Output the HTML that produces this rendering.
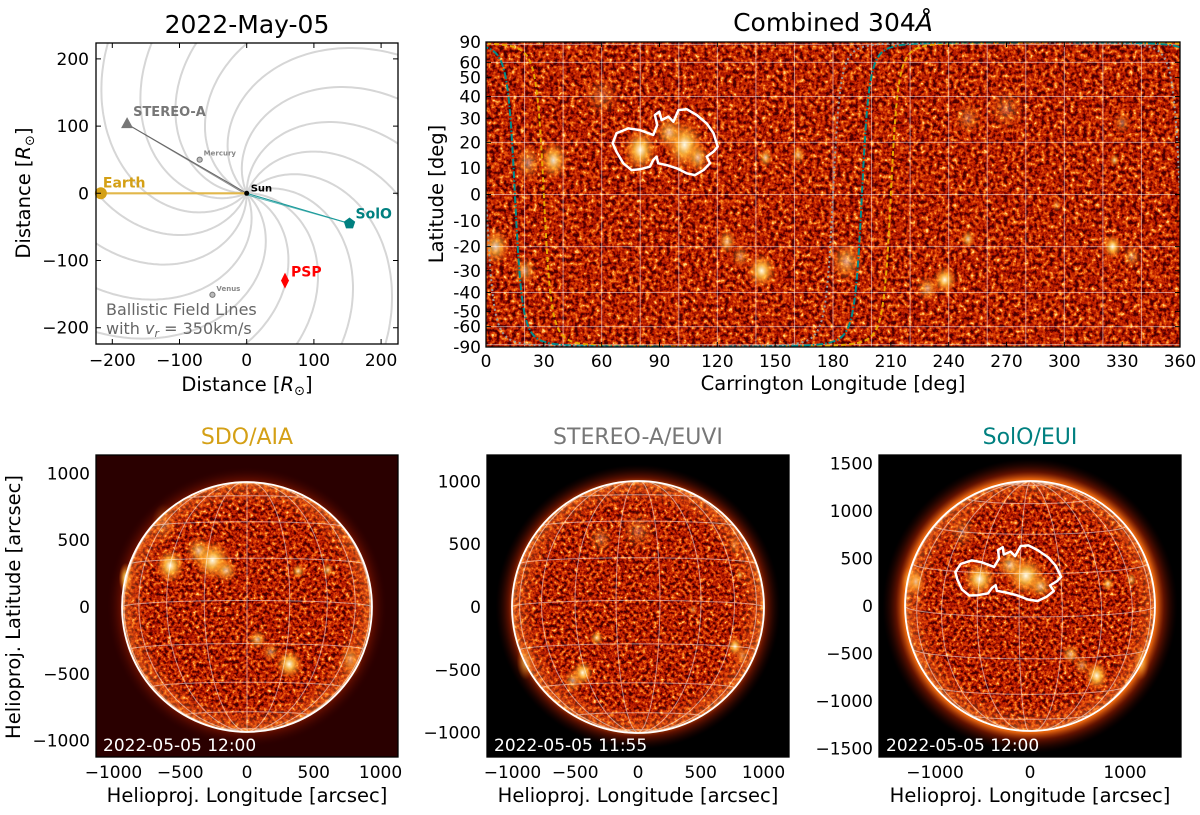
<!DOCTYPE html>
<html><head><meta charset="utf-8">
<style>
body{margin:0;background:#fff;}
svg text{font-family:"DejaVu Sans","Liberation Sans",sans-serif;}
</style></head>
<body>
<svg id="fig" width="1200" height="810" viewBox="0 0 1200 810" xmlns="http://www.w3.org/2000/svg">
<defs>
  <filter id="texMap" x="0" y="0" width="1" height="1" color-interpolation-filters="sRGB">
    <feTurbulence type="fractalNoise" baseFrequency="0.24" numOctaves="3" seed="3" result="n"/>
    <feColorMatrix in="n" type="matrix" values="1 0 0 0 0  1 0 0 0 0  1 0 0 0 0  0 0 0 0 1" result="g"/>
    <feComponentTransfer in="g" result="c">
      <feFuncR type="linear" slope="2.0" intercept="-0.63"/>
      <feFuncG type="linear" slope="2.0" intercept="-0.63"/>
      <feFuncB type="linear" slope="2.0" intercept="-0.63"/>
    </feComponentTransfer>
    <feComponentTransfer in="c" result="col">
      <feFuncR type="table" tableValues="0.3 0.6 0.76 0.88 0.97 1"/>
      <feFuncG type="table" tableValues="0 0.05 0.14 0.28 0.5 0.85"/>
      <feFuncB type="table" tableValues="0 0 0 0.03 0.1 0.5"/>
    </feComponentTransfer>
    <feComposite in="col" in2="SourceGraphic" operator="in"/>
  </filter>
  <filter id="texDisk" x="0" y="0" width="1" height="1" color-interpolation-filters="sRGB">
    <feTurbulence type="fractalNoise" baseFrequency="0.28" numOctaves="3" seed="7" result="n"/>
    <feColorMatrix in="n" type="matrix" values="1 0 0 0 0  1 0 0 0 0  1 0 0 0 0  0 0 0 0 1" result="g"/>
    <feComponentTransfer in="g" result="c">
      <feFuncR type="linear" slope="2.0" intercept="-0.63"/>
      <feFuncG type="linear" slope="2.0" intercept="-0.63"/>
      <feFuncB type="linear" slope="2.0" intercept="-0.63"/>
    </feComponentTransfer>
    <feComponentTransfer in="c" result="col">
      <feFuncR type="table" tableValues="0.28 0.58 0.75 0.88 0.97 1"/>
      <feFuncG type="table" tableValues="0 0.04 0.13 0.27 0.5 0.85"/>
      <feFuncB type="table" tableValues="0 0 0 0.03 0.1 0.5"/>
    </feComponentTransfer>
    <feComposite in="col" in2="SourceGraphic" operator="in"/>
  </filter>
  <radialGradient id="ar">
    <stop offset="0" stop-color="#fffbe8" stop-opacity="1"/>
    <stop offset="0.35" stop-color="#ffc040" stop-opacity="0.85"/>
    <stop offset="1" stop-color="#ff6a00" stop-opacity="0"/>
  </radialGradient>
  <radialGradient id="limb">
    <stop offset="0.8" stop-color="#ff6a10" stop-opacity="0"/>
    <stop offset="0.97" stop-color="#ff9030" stop-opacity="0.4"/>
    <stop offset="1" stop-color="#ffc070" stop-opacity="0.7"/>
  </radialGradient>
  <radialGradient id="corona">
    <stop offset="0.86" stop-color="#ff7010" stop-opacity="1"/>
    <stop offset="0.91" stop-color="#b02000" stop-opacity="0.6"/>
    <stop offset="1" stop-color="#400000" stop-opacity="0"/>
  </radialGradient>
  <clipPath id="clipOrbit"><rect x="96" y="43" width="302" height="301"/></clipPath>
  <clipPath id="clipMap"><rect x="486" y="42" width="694" height="305"/></clipPath>
  <clipPath id="clipP0"><rect x="96" y="455" width="302" height="302"/></clipPath>
  <clipPath id="clipP1"><rect x="487" y="455" width="302" height="302"/></clipPath>
  <clipPath id="clipP2"><rect x="879" y="455" width="302" height="302"/></clipPath>
</defs>

<text x="247" y="33" font-size="25" text-anchor="middle">2022-May-05</text>
<text x="833" y="31" font-size="25" text-anchor="middle">Combined 304<tspan font-style="italic">Å</tspan></text>
<text x="247" y="444" font-size="22" text-anchor="middle" fill="#d4a016">SDO/AIA</text>
<text x="638" y="444" font-size="22" text-anchor="middle" fill="#777777">STEREO-A/EUVI</text>
<text x="1030" y="444" font-size="22" text-anchor="middle" fill="#008080">SolO/EUI</text>

<text x="247" y="391" font-size="19.5" text-anchor="middle">Distance [<tspan font-style="italic">R</tspan><tspan font-size="13" dy="4">⊙</tspan><tspan dy="-4">]</tspan></text>
<text x="0" y="0" font-size="19.5" text-anchor="middle" transform="translate(30,193) rotate(-90)">Distance [<tspan font-style="italic">R</tspan><tspan font-size="13" dy="4">⊙</tspan><tspan dy="-4">]</tspan></text>
<text x="833" y="390" font-size="19.5" text-anchor="middle">Carrington Longitude [deg]</text>
<text x="0" y="0" font-size="19.5" text-anchor="middle" transform="translate(443,194) rotate(-90)">Latitude [deg]</text>
<text x="247" y="802" font-size="19.5" text-anchor="middle">Helioproj. Longitude [arcsec]</text>
<text x="638" y="802" font-size="19.5" text-anchor="middle">Helioproj. Longitude [arcsec]</text>
<text x="1030" y="802" font-size="19.5" text-anchor="middle">Helioproj. Longitude [arcsec]</text>
<text x="0" y="0" font-size="19.5" text-anchor="middle" transform="translate(20,607) rotate(-90)">Helioproj. Latitude [arcsec]</text>

<g id="orbit"></g>
<g id="map"></g>
<g id="disks"></g>
</svg>

<script>
// ---------- data ----------
const orbitTicks=[-200,-100,0,100,200];
const bodyNames=["STEREO-A","Mercury","Earth","Venus","PSP","SolO"];
const bodyX=[-178,-70,-217,-51,57,153];
const bodyY=[103,50,0,-151,-130,-45];
const spiralCount=16;
const windSpeed=350;
const lonTicks=[0,30,60,90,120,150,180,210,240,270,300,330,360];
const latTicks=[-90,-60,-50,-40,-30,-20,-10,0,10,20,30,40,50,60,90];
const featLon=[80,103,95,110,35,22,145,162,125,143,132,5,20,187,238,229,250,325,335,296,326,330,250,270,60];
const featLat=[17,19,24,14,13,12,14,15,-18,-30,-24,-20,-30,-26,-34,-38,-17,-20,-24,-4,13,28,30,34,40];
const featAmp=[1,1,0.7,0.7,0.9,0.5,0.8,0.7,0.7,1,0.5,0.8,0.6,0.6,1,0.6,0.8,1,0.5,0.5,0.8,0.4,0.35,0.3,0.3];
const featSize=[7,8,6,5,6,6,3,3,4,6,4,6,5,7,5,5,3,4,4,2,2,4,6,8,8];
const contourLon=[65.7,67.7,73.8,79.8,86.8,88.8,87.6,89.9,91.1,94.6,97.2,99.8,104.1,109.3,114.5,118.0,120.2,118.0,114.5,116.2,112.8,108.4,104.1,98.9,93.7,89.3,88.5,86.8,85.0,79.8,75.5,71.2,67.7];
const contourLat=[19.6,23.7,25.7,25.0,23.0,27.1,31.4,32.9,29.2,30.7,28.5,33.6,34.0,31.4,27.8,23.7,18.3,16.3,14.4,11.8,9.2,7.3,8.0,9.9,11.1,11.8,14.4,13.1,10.5,9.5,9.2,11.8,16.3];
const observerNames=["Earth","SolO","STEREO-A"];
const observerLon=[120,105,270];
const observerB=[4,4,-4];
const panelNames=["sdo","stereo","solo"];
const panelLon=[120,270,105];
const panelB=[-3,-3,5];
const panelRarc=[936,1004,1316];
const panelXTicks=[[-1000,-500,0,500,1000],[-1000,-500,0,500,1000],[-1000,0,1000]];
const panelYTicks=[[-1000,-500,0,500,1000],[-1000,-500,0,500,1000],[-1500,-1000,-500,0,500,1000,1500]];
const panelTimes=["2022-05-05 12:00","2022-05-05 11:55","2022-05-05 12:00"];

// ---------- helpers ----------
const NS="http://www.w3.org/2000/svg";
const D2R=Math.PI/180;
function mk(tag,attrs,parent){const e=document.createElementNS(NS,tag);for(const k in attrs)e.setAttribute(k,attrs[k]);parent.appendChild(e);return e;}
function fmt(v){return v<0?"\u2212"+Math.abs(v):String(v);}

// ---------- orbit plot ----------
const og=document.getElementById('orbit');
const OX0=96,OX1=398,OY0=43,OY1=344;
const ox=v=>246.7+0.672*v, oy=v=>193.3-0.672*v;
const ob=mk('g',{'clip-path':'url(#clipOrbit)'},og);
const kw=2.66e-6*6.96e5/windSpeed;
for(let i=0;i<spiralCount;i++){
  const p0=i*2*Math.PI/spiralCount;let d="";
  for(let r=0;r<=340;r+=3){const ph=p0-kw*r;d+=(r?"L":"M")+ox(r*Math.cos(ph)).toFixed(1)+","+oy(r*Math.sin(ph)).toFixed(1);}
  const s=mk('path',{d:d,fill:'none',stroke:'#d6d6d6','stroke-width':2},ob);
  
  
}
const lineCols={"STEREO-A":"#666","Earth":"#e2b74a","SolO":"#1a9a9a"};
for(let i=0;i<bodyNames.length;i++){
  const nm=bodyNames[i];
  if(!lineCols[nm])continue;
  const l=mk('line',{x1:ox(bodyX[i]),y1:oy(bodyY[i]),x2:ox(0),y2:oy(0),stroke:lineCols[nm],'stroke-width':nm==="Earth"?2.2:1},ob);
  
  
  if(nm!=="Earth"){
    const l2=mk('line',{x1:ox(bodyX[i]),y1:oy(bodyY[i]),x2:ox(0),y2:oy(0)+1.5,stroke:lineCols[nm],'stroke-width':1,opacity:0.7},ob);
    
    
  }
}
const bodyStyle={
 "STEREO-A":{c:"#777",lab:"STEREO-A",fs:13,dx:6,dy:-8},
 "Mercury":{c:"#888",lab:"Mercury",fs:7,dx:4,dy:-4},
 "Earth":{c:"#d4a016",lab:"Earth",fs:14,dx:2,dy:-6},
 "Venus":{c:"#888",lab:"Venus",fs:7,dx:4,dy:-4},
 "PSP":{c:"#ff0000",lab:"PSP",fs:14,dx:6,dy:-4},
 "SolO":{c:"#008080",lab:"SolO",fs:14,dx:6,dy:-5}};
for(let i=0;i<bodyNames.length;i++){
  const nm=bodyNames[i],st=bodyStyle[nm],x=ox(bodyX[i]),y=oy(bodyY[i]);let m;
  if(nm==="STEREO-A") m=mk('polygon',{points:`${x},${y-7} ${x-6},${y+4} ${x+6},${y+4}`,fill:st.c},og);
  else if(nm==="PSP") m=mk('polygon',{points:`${x},${y-8} ${x+4},${y} ${x},${y+8} ${x-4},${y}`,fill:st.c},og);
  else if(nm==="SolO"){let pts="";for(let k=0;k<5;k++){const a=-Math.PI/2+k*2*Math.PI/5;pts+=(x+6*Math.cos(a)).toFixed(1)+","+(y+6*Math.sin(a)).toFixed(1)+" ";}m=mk('polygon',{points:pts,fill:st.c},og);}
  else if(nm==="Earth") m=mk('circle',{cx:x,cy:y,r:6,fill:st.c},og);
  else m=mk('circle',{cx:x,cy:y,r:2.6,fill:'#bbb',stroke:'#777','stroke-width':1},og);
  
  
  const t=mk('text',{x:x+st.dx,y:y+st.dy,'font-size':st.fs,'font-weight':'bold',fill:st.c},og);
  t.textContent=st.lab;
  
  
}
const sunDot=mk('circle',{cx:ox(0),cy:oy(0),r:2.5,fill:'#000'},og);


const sunLab=mk('text',{x:ox(0)+4,y:oy(0)-2,'font-size':10,'font-weight':'bold',fill:'#000'},og);
sunLab.textContent="Sun";


const bt1=mk('text',{x:106,y:315,'font-size':16,fill:'#666'},og);
bt1.textContent="Ballistic Field Lines";


const bt2=mk('text',{x:106,y:334,'font-size':16,fill:'#666'},og);
bt2.appendChild(document.createTextNode("with "));
const tv=mk('tspan',{'font-style':'italic'},bt2); tv.textContent="v";
const tr=mk('tspan',{'font-style':'italic','font-size':11,dy:3},bt2); tr.textContent="r";
const te=mk('tspan',{dy:-3},bt2); te.textContent=" = 350km/s";


const obox=mk('rect',{x:OX0,y:OY0,width:OX1-OX0,height:OY1-OY0,fill:'none',stroke:'#000','stroke-width':1.3},og);


for(const v of orbitTicks){
  const tk=mk('path',{d:`M${ox(v)},${OY1}v-5M${ox(v)},${OY0}v5M${OX0},${oy(v)}h5M${OX1},${oy(v)}h-5`,stroke:'#000','stroke-width':1},og);
  
  
  const tx=mk('text',{x:ox(v),y:366,'font-size':17,'text-anchor':'middle'},og);
  tx.textContent=fmt(v);
  
  
  const ty=mk('text',{x:89,y:oy(v)+6,'font-size':17,'text-anchor':'end'},og);
  ty.textContent=fmt(v);
  
  
}

// ---------- Carrington map ----------
const mg=document.getElementById('map');
const MX0=486,MX1=1180,MY0=42,MY1=347;
const mx=lon=>MX0+(MX1-MX0)*lon/360;
const my=lat=>194.5-152.5*Math.sin(lat*D2R);
const mc=mk('g',{'clip-path':'url(#clipMap)'},mg);
const mbg=mk('rect',{x:MX0,y:MY0,width:MX1-MX0,height:MY1-MY0,fill:'#b02000',filter:'url(#texMap)'},mc);


for(let i=0;i<featLon.length;i++){
  const e=mk('ellipse',{cx:mx(featLon[i]),cy:my(featLat[i]),rx:featSize[i]*1.93*1.3,ry:featSize[i]*2.66*Math.cos(featLat[i]*D2R)*1.3,fill:'url(#ar)',opacity:featAmp[i]},mc);
  
  
}
for(let lon=20;lon<360;lon+=20){
  const g=mk('line',{x1:mx(lon),y1:MY0,x2:mx(lon),y2:MY1,stroke:'#fff','stroke-opacity':0.5,'stroke-width':1},mc);
  
  
}
for(let lat=-80;lat<=80;lat+=20){
  const g=mk('line',{x1:MX0,y1:my(lat),x2:MX1,y2:my(lat),stroke:'#fff','stroke-opacity':0.5,'stroke-width':1},mc);
  
  
}
const curveStyle={"Earth":{c:"#e8a800",dash:"5,3"},"SolO":{c:"#008b8b",dash:"7,2,1.5,2"},"STEREO-A":{c:"#9a9a9a",dash:"2,3"}};
for(let o=0;o<observerNames.length;o++){
  const L=observerLon[o],tb=Math.tan(observerB[o]*D2R);
  let d="";
  for(const side of [-1,1]){
    let prev=null;
    const lats=[];for(let a=-89.95;a<=89.95;a+=0.25)lats.push(side<0?a:-a);
    for(const lat of lats){
      const c=-Math.tan(lat*D2R)*tb;if(Math.abs(c)>1){prev=null;continue;}
      let lon=L+side*Math.acos(c)/D2R;lon=((lon%360)+360)%360;
      const X=mx(lon),Y=my(lat);
      if(prev===null||Math.abs(lon-prev)>180)d+="M";else d+="L";
      d+=X.toFixed(1)+","+Y.toFixed(1);prev=lon;
    }
  }
  const cs=curveStyle[observerNames[o]];
  const p=mk('path',{d:d,fill:'none',stroke:cs.c,'stroke-width':2,'stroke-dasharray':cs.dash},mc);
  
  
}
let cd="";
for(let i=0;i<contourLon.length;i++)cd+=(i?"L":"M")+mx(contourLon[i]).toFixed(1)+","+my(contourLat[i]).toFixed(1);
const cont=mk('path',{d:cd+"Z",fill:'none',stroke:'#fff','stroke-width':2.5,'stroke-linejoin':'round'},mc);


const mbox=mk('rect',{x:MX0,y:MY0,width:MX1-MX0,height:MY1-MY0,fill:'none',stroke:'#000','stroke-width':1.3},mg);


for(const v of lonTicks){
  const tk=mk('path',{d:`M${mx(v)},${MY1}v-5M${mx(v)},${MY0}v5`,stroke:'#000'},mg);
  
  
  const t=mk('text',{x:mx(v),y:367,'font-size':17,'text-anchor':'middle'},mg);
  t.textContent=String(v);
  
  
}
for(const v of latTicks){
  const tk=mk('path',{d:`M${MX0},${my(v)}h5M${MX1},${my(v)}h-5`,stroke:'#000'},mg);
  
  
  const t=mk('text',{x:481,y:my(v)+6,'font-size':17,'text-anchor':'end'},mg);
  t.textContent=String(v);
  
  
}

// ---------- disk panels ----------
const dg=document.getElementById('disks');
const panelBox=[[96,398],[487,789],[879,1181]];
const panelCx=[247,638,1030];
const panelCy=[607,607,606];
const panelBg=["#2a0000","#000","#000"];
const panelHalf=[1131,1203,1590];
const panelCorona=[1.12,1.13,1.18];
function proj(lon,lat,L,B){const d=(lon-L)*D2R,p=lat*D2R,b=B*D2R;
  return {x:Math.cos(p)*Math.sin(d),y:Math.cos(b)*Math.sin(p)-Math.sin(b)*Math.cos(p)*Math.cos(d),z:Math.sin(b)*Math.sin(p)+Math.cos(b)*Math.cos(p)*Math.cos(d)};}
for(let k=0;k<3;k++){
  const x0=panelBox[k][0],x1=panelBox[k][1],Y0=455,Y1=757,cx=panelCx[k],cy=panelCy[k];
  const scale=(x1-x0)/(2*panelHalf[k]);
  const R=panelRarc[k]*scale,L=panelLon[k],B=panelB[k];
  const pg=mk('g',{'clip-path':`url(#clipP${k})`},dg);
  
  
  mk('rect',{x:x0,y:Y0,width:x1-x0,height:Y1-Y0,fill:panelBg[k]},pg);
  mk('circle',{cx:cx,cy:cy,r:R*panelCorona[k],fill:'url(#corona)',opacity:k===0?0.6:0.9},pg);
  const disk=mk('circle',{cx:cx,cy:cy,r:R,fill:'#b02000',filter:'url(#texDisk)'},pg);
  
  
  for(let i=0;i<featLon.length;i++){
    const p=proj(featLon[i],featLat[i],L,B);if(p.z<0.05)continue;
    const rr=featSize[i]*D2R*R*1.2;
    const e=mk('ellipse',{cx:cx+p.x*R,cy:cy-p.y*R,rx:rr*(0.4+0.6*p.z),ry:rr,fill:'url(#ar)',opacity:featAmp[i]},pg);
    
    
  }
  mk('circle',{cx:cx,cy:cy,r:R,fill:'url(#limb)'},pg);
  let gd="";
  const addLine=(pts)=>{let on=false;for(const q of pts){if(q.z>0){gd+=(on?"L":"M")+(cx+q.x*R).toFixed(1)+","+(cy-q.y*R).toFixed(1);on=true;}else on=false;}};
  for(let lat=-80;lat<=80;lat+=20){const pts=[];for(let lon=0;lon<=360;lon+=3)pts.push(proj(lon,lat,L,B));addLine(pts);}
  for(let lon=0;lon<360;lon+=20){const pts=[];for(let lat=-90;lat<=90;lat+=3)pts.push(proj(lon,lat,L,B));addLine(pts);}
  const grid=mk('path',{d:gd,fill:'none',stroke:'#fff','stroke-opacity':0.5,'stroke-width':1},pg);
  
  
  const limb=mk('circle',{cx:cx,cy:cy,r:R,fill:'none',stroke:'#fff','stroke-width':1.8},pg);
  
  
  if(k===2){
    let d="";
    for(let i=0;i<contourLon.length;i++){const p=proj(contourLon[i],contourLat[i],L,B);d+=(i?"L":"M")+(cx+p.x*R).toFixed(1)+","+(cy-p.y*R).toFixed(1);}
    const c2=mk('path',{d:d+"Z",fill:'none',stroke:'#fff','stroke-width':2.5,'stroke-linejoin':'round'},pg);
    
    
  }
  const ts=mk('text',{x:x0+7,y:751,'font-size':17,fill:'#fff'},pg);
  ts.textContent=panelTimes[k];
  
  
  const fr=mk('rect',{x:x0,y:Y0,width:x1-x0,height:Y1-Y0,fill:'none',stroke:'#000','stroke-width':1.3},dg);
  
  
  for(const v of panelXTicks[k]){
    const X=cx+v*scale;
    const t=mk('text',{x:X,y:778,'font-size':17,'text-anchor':'middle'},dg);
    t.textContent=fmt(v);
    
    
  }
  for(const v of panelYTicks[k]){
    const Y=cy-v*scale;
    const t=mk('text',{x:x0-6,y:Y+6,'font-size':17,'text-anchor':'end'},dg);
    t.textContent=fmt(v);
    
    
  }
}
</script>
</body></html>
